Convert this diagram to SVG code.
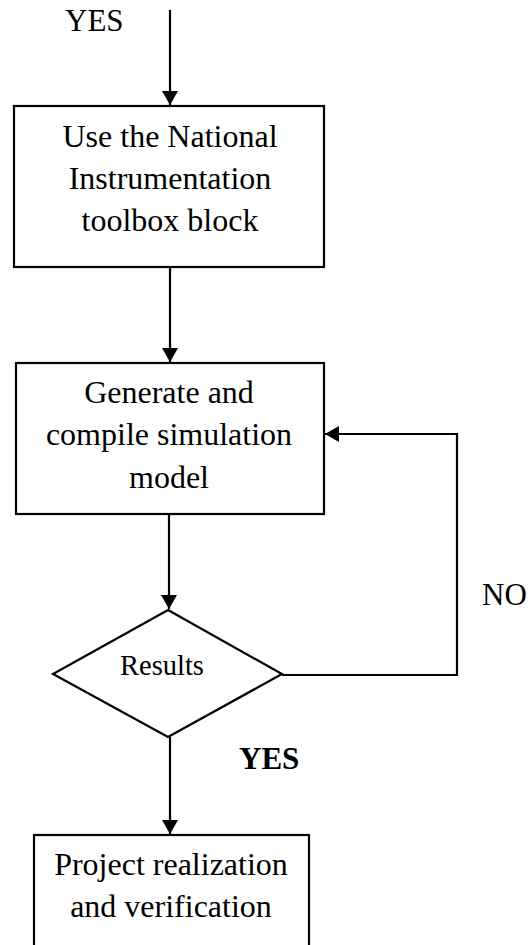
<svg xmlns="http://www.w3.org/2000/svg" width="532" height="945" viewBox="0 0 532 945">
<style>
.box{fill:#fff;stroke:#000;stroke-width:2.2}
.conn{fill:none;stroke:#000;stroke-width:2.2}
.t{font-family:"Liberation Serif","Times New Roman",serif;font-size:32px;fill:#000;text-anchor:middle}
.lbl{font-family:"Liberation Serif","Times New Roman",serif;font-size:31px;fill:#000}
</style>
<defs>
<marker id="arr" markerUnits="userSpaceOnUse" markerWidth="16" markerHeight="16" refX="14" refY="8" orient="auto">
<path d="M0,0 L14,8 L0,16 z" fill="#000"/>
</marker>
</defs>
<rect width="532" height="945" fill="#fff"/>
<g id="connectors">
<path class="conn" d="M170,10 V105" marker-end="url(#arr)"/>
<path class="conn" d="M170,267 V362" marker-end="url(#arr)"/>
<path class="conn" d="M169,514 V609" marker-end="url(#arr)"/>
<path class="conn" d="M170,737 V834" marker-end="url(#arr)"/>
<path class="conn" d="M282,675 H457 V434 H325" marker-end="url(#arr)"/>
</g>
<g id="label-yes-top"><text class="lbl" x="65" y="31">YES</text></g>
<g id="node-ni">
<rect class="box" x="14" y="106" width="310" height="161"/>
<text class="t" x="170" y="147">Use the National</text>
<text class="t" x="170" y="189">Instrumentation</text>
<text class="t" x="170" y="231">toolbox block</text>
</g>
<g id="node-generate">
<rect class="box" x="16" y="363" width="308" height="151"/>
<text class="t" x="169" y="403">Generate and</text>
<text class="t" x="169" y="445">compile simulation</text>
<text class="t" x="169" y="488">model</text>
</g>
<g id="node-results">
<polygon class="box" points="168,610 282,674 168,737 53,674"/>
<text class="t" x="162" y="675" style="font-size:28.5px">Results</text>
</g>
<g id="label-no"><text class="lbl" x="482" y="605">NO</text></g>
<g id="label-yes-bold"><text class="lbl" x="239" y="769" font-weight="bold">YES</text></g>
<g id="node-project">
<rect class="box" x="34" y="835" width="275" height="130"/>
<text class="t" x="171" y="875">Project realization</text>
<text class="t" x="171" y="917">and verification</text>
</g>
</svg>
